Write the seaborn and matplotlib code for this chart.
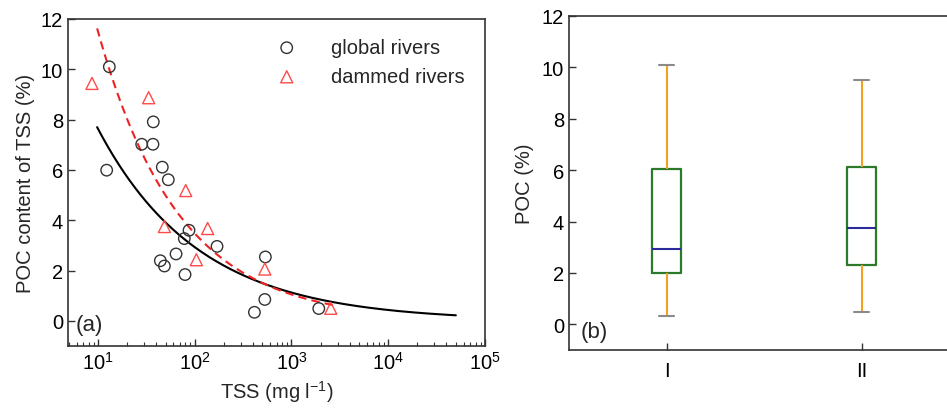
import numpy as np
import pandas as pd
import matplotlib
matplotlib.use("Agg")
import matplotlib.pyplot as plt
import seaborn as sns

# ---------------- data ----------------
global_tss = [13.1, 37.3, 28.3, 37.0, 12.3, 46.2, 53.3, 87.3, 78.0, 170, 64.1,
              44.1, 48.6, 79.4, 537, 530, 414, 1914]
global_poc = [10.10, 7.91, 7.02, 7.02, 5.99, 6.11, 5.61, 3.60, 3.27, 2.96, 2.66,
              2.39, 2.18, 1.84, 2.54, 0.85, 0.34, 0.49]
dammed_tss = [8.67, 33.4, 80.7, 48.6, 136, 104, 530, 2546]
dammed_poc = [9.44, 8.87, 5.18, 3.75, 3.67, 2.43, 2.06, 0.50]

# power-law fits y = a * x^b
global_fit = {"a": 19.9, "b": -0.416, "xmin": 9.8, "xmax": 5.0e4}
dammed_fit = {"a": 38.1, "b": -0.52, "xmin": 9.8, "xmax": 2950}

# box statistics: [low whisker, Q1, median, Q3, high whisker]
box_groups = ["I", "II"]
box_I = [0.33, 1.99, 2.95, 6.03, 10.10]
box_II = [0.48, 2.31, 3.75, 6.11, 9.49]

y_ticks = [0, 2, 4, 6, 8, 10, 12]

# ---------------- style ----------------
sns.set_theme(style="ticks")
plt.rcParams["font.family"] = ["Liberation Sans", "DejaVu Sans"]
plt.rcParams["mathtext.fontset"] = "custom"
plt.rcParams["mathtext.rm"] = "Liberation Sans"
plt.rcParams["mathtext.it"] = "Liberation Sans:italic"
plt.rcParams["axes.edgecolor"] = "#333333"
plt.rcParams["axes.linewidth"] = 1.2

FS = 14.5
fig = plt.figure(figsize=(9.47, 4.10), dpi=100)
ax1 = fig.add_axes([68 / 947, 1 - 347 / 410, (485 - 68) / 947, (347 - 20) / 410])
ax2 = fig.add_axes([569 / 947, 1 - 351 / 410, (959 - 569) / 947, (351 - 17) / 410])

# ---------------- panel (a) ----------------
def fit_frame(p, label):
    xs = np.logspace(np.log10(p["xmin"]), np.log10(p["xmax"]), 200)
    return pd.DataFrame({"x": xs, "y": p["a"] * xs ** p["b"], "fit": label})

gf = fit_frame(global_fit, "g")
df_ = fit_frame(dammed_fit, "d")
sns.lineplot(data=gf, x="x", y="y", ax=ax1, color="black", lw=1.5, legend=False)
sns.lineplot(data=df_, x="x", y="y", ax=ax1, color="#ee2222", lw=1.5,
             dashes=False, legend=False)
ax1.lines[-1].set_linestyle((0, (4, 2.5)))

sns.scatterplot(x=global_tss, y=global_poc, ax=ax1, marker="o", s=68,
                facecolor="none", edgecolor="#333333", linewidth=1.0,
                label="global rivers", zorder=3)
sns.scatterplot(x=dammed_tss, y=dammed_poc, ax=ax1, marker="^", s=75,
                facecolor="none", edgecolor="#ff4a4a", linewidth=1.0,
                label="dammed rivers", zorder=3)

ax1.set_xscale("log")
ax1.set_xlim(4.9, 1e5)
ax1.set_ylim(-1, 12)
ax1.set_yticks(y_ticks)
ax1.set_xlabel("TSS (mg l$^{-1}$)", fontsize=FS, labelpad=4)
ax1.set_ylabel("POC content of TSS (%)", fontsize=FS, labelpad=4)
ax1.tick_params(axis="both", which="major", direction="in", length=5,
                width=1.0, labelsize=FS, colors="#333333", labelcolor="black")
ax1.tick_params(axis="x", which="minor", direction="in", length=3, width=0.8,
                colors="#333333")
for s in ax1.spines.values():
    s.set_visible(True)
leg = ax1.legend(loc="upper right", frameon=False, fontsize=FS,
                 bbox_to_anchor=(0.985, 0.985), handletextpad=1.2,
                 borderaxespad=0.3, labelspacing=0.5)
ax1.text(0.018, 0.067, "(a)", transform=ax1.transAxes, fontsize=16,
         ha="left", va="center")

# ---------------- panel (b) ----------------
box_df = pd.DataFrame({
    "group": [box_groups[0]] * len(box_I) + [box_groups[1]] * len(box_II),
    "poc": box_I + box_II,
})
sns.boxplot(data=box_df, x="group", y="poc", ax=ax2, width=0.15, fill=False,
            whis=1.5, showfliers=False, capwidths=0.075,
            boxprops=dict(color="#2b7a2b", linewidth=1.6),
            whiskerprops=dict(color="#f5a020", linewidth=1.5),
            capprops=dict(color="#8a8a8a", linewidth=1.5),
            medianprops=dict(color="#2a2a9a", linewidth=1.5))
ax2.set_xlim(-0.5, 1.5)
ax2.set_ylim(-1, 12)
ax2.set_yticks(y_ticks)
ax2.set_xlabel("")
ax2.set_ylabel("POC (%)", fontsize=FS, labelpad=6)
ax2.tick_params(axis="both", which="major", direction="in", length=5,
                width=1.0, labelsize=FS, colors="#333333", labelcolor="black")
ax2.tick_params(axis="x", pad=8)
for s in ax2.spines.values():
    s.set_visible(True)
ax2.text(0.03, 0.054, "(b)", transform=ax2.transAxes, fontsize=16,
         ha="left", va="center")

fig.savefig("out.png", dpi=100)
